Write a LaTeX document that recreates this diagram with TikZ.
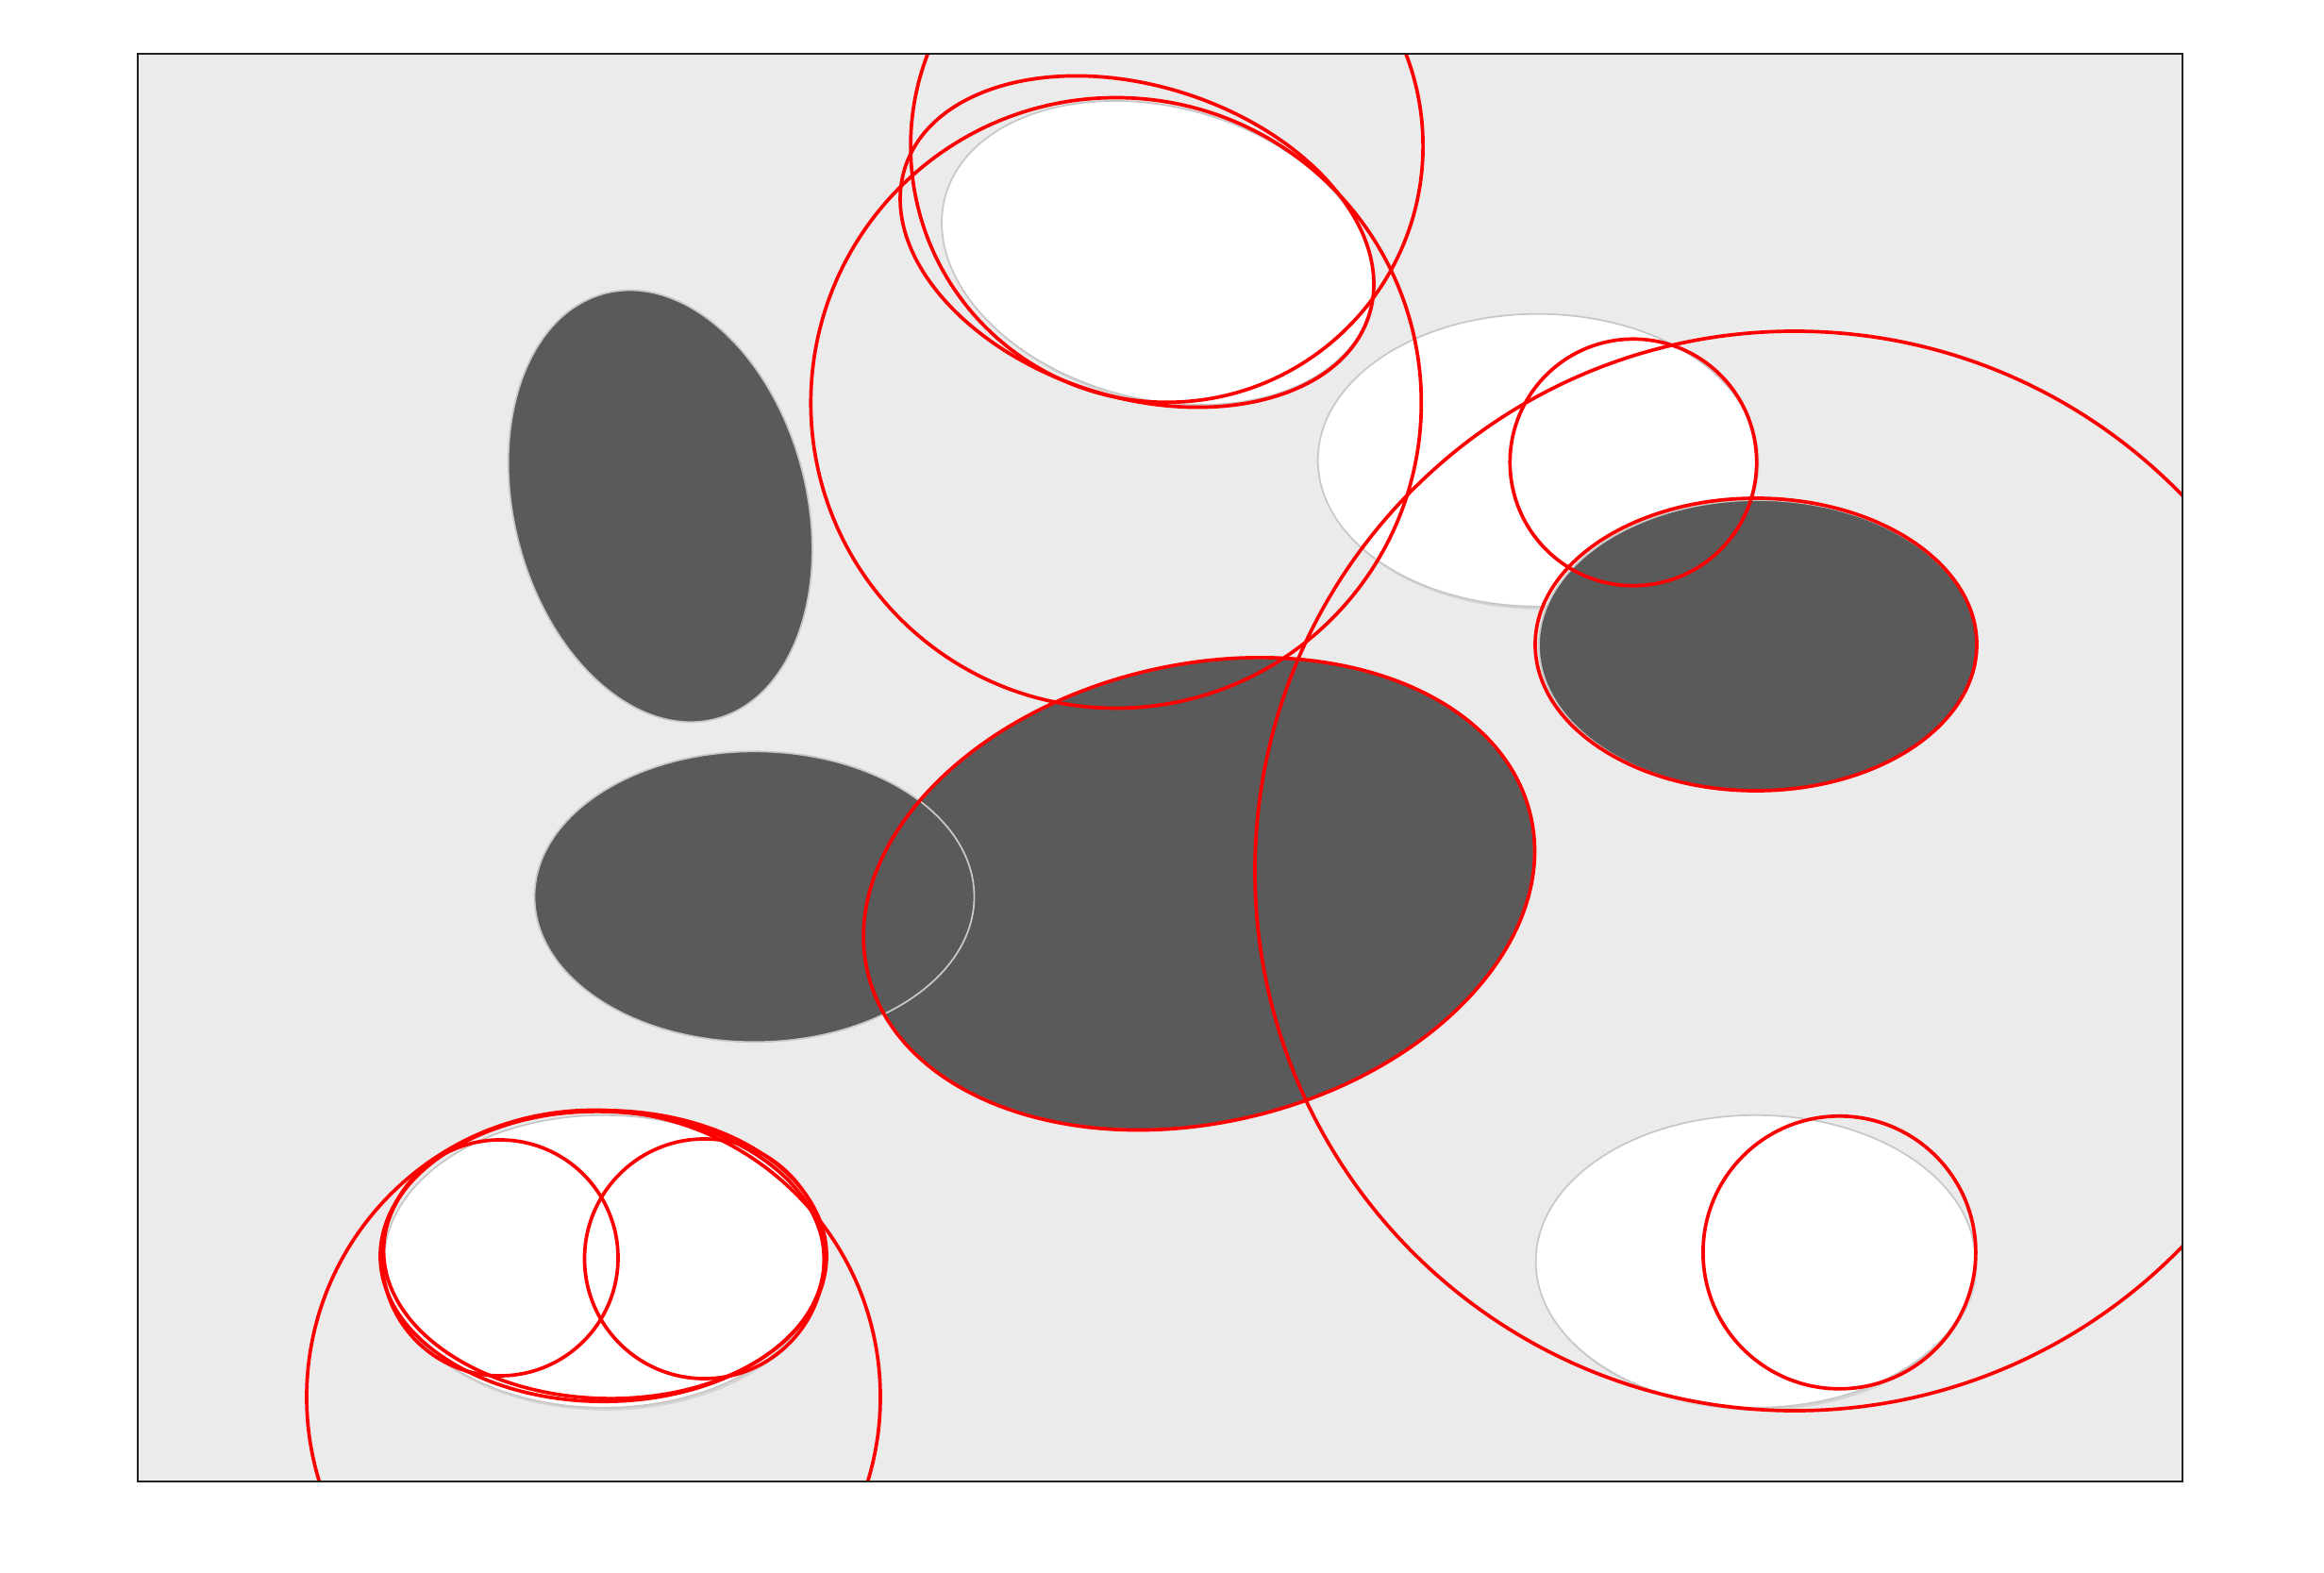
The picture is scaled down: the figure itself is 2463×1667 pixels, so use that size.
\documentclass[tikz,border=0pt]{standalone}
\definecolor{bgc}{HTML}{EBEBEB}
\definecolor{darkc}{HTML}{5A5A5A}
\definecolor{rimc}{HTML}{C8C8C8}
\definecolor{shadc}{HTML}{D4D4D4}
\definecolor{redc}{HTML}{FF0000}
\definecolor{framec}{HTML}{222222}
\newcommand\myshadow[5]{%
  \path[shadowblob, rotate around={#5:(#1+2,#2+3)}] (#1+2,#2+3) ellipse [x radius=#3, y radius=#4];}
\newcommand\myblob[6]{%
  \path[#6, rotate around={#5:(#1,#2)}] (#1,#2) ellipse [x radius=#3, y radius=#4];}
\begin{document}
\begin{tikzpicture}[x=0.01cm,y=-0.01cm,
  darkblob/.style={fill=darkc, draw=rimc, line width=0.5pt},
  whiteblob/.style={fill=white, draw=rimc, line width=0.5pt},
  shadowblob/.style={fill=shadc},
  redring/.style={draw=redc, line width=1.05pt}]
\useasboundingbox (0,0) rectangle (2463,1667);
\fill[white] (0,0) rectangle (2463,1667);
\coordinate (tl) at (146,57);
\coordinate (br) at (2313,1570);
\fill[bgc] (tl) rectangle (br);
% shadows (white ellipses only)
\myshadow{1227}{268}{233}{155}{-14.5}
\myshadow{1629.7}{487.7}{233}{155}{0}
\myshadow{640}{1336.8}{233}{155}{0}
\myshadow{1860.6}{1336.8}{233}{155}{0}
% white ellipses
\myblob{1227}{268}{233}{155}{-14.5}{whiteblob}
\myblob{1629.7}{487.7}{233}{155}{0}{whiteblob}
\myblob{640}{1336.8}{233}{155}{0}{whiteblob}
\myblob{1860.6}{1336.8}{233}{155}{0}{whiteblob}
% dark ellipses
\myblob{699.8}{536.4}{155}{233}{14.6}{darkblob}
\myblob{1270.8}{947.2}{360.4}{242}{13.4}{darkblob}
\myblob{799.5}{950.3}{233}{154}{0}{darkblob}
\myblob{1863}{684}{232}{154}{0}{darkblob}
% red outlines
\begin{scope}
\clip (tl) rectangle (br);
\draw[redring] (1182.8,427) circle [radius=323.5];
\draw[redring] (1236.6,154.8) circle [radius=271.5];
\draw[redring, rotate around={-17.6:(1205,256)}] (1205,256) ellipse [x radius=258, y radius=165];
\draw[redring] (1731,490) circle [radius=130.7];
\draw[redring] (1902,923) circle [radius=572];
\draw[redring] (1861,683) ellipse [x radius=234, y radius=155];
\draw[redring, rotate around={13.4:(1270.8,947.2)}] (1270.8,947.2) ellipse [x radius=361, y radius=242.5];
\draw[redring] (1949.4,1327.3) circle [radius=144.5];
\draw[redring] (629,1480.5) circle [radius=304];
\draw[redring] (530,1333) circle [radius=125];
\draw[redring] (746.5,1334) circle [radius=127];
\draw[redring] (639.5,1331) ellipse [x radius=236.5, y radius=154.2];
\draw[redring, rotate around={-2:(640,1330)}] (640,1330) ellipse [x radius=233.5, y radius=152];
\end{scope}
\draw[framec, line width=0.55pt] (tl) rectangle (br);
\end{tikzpicture}
\end{document}
